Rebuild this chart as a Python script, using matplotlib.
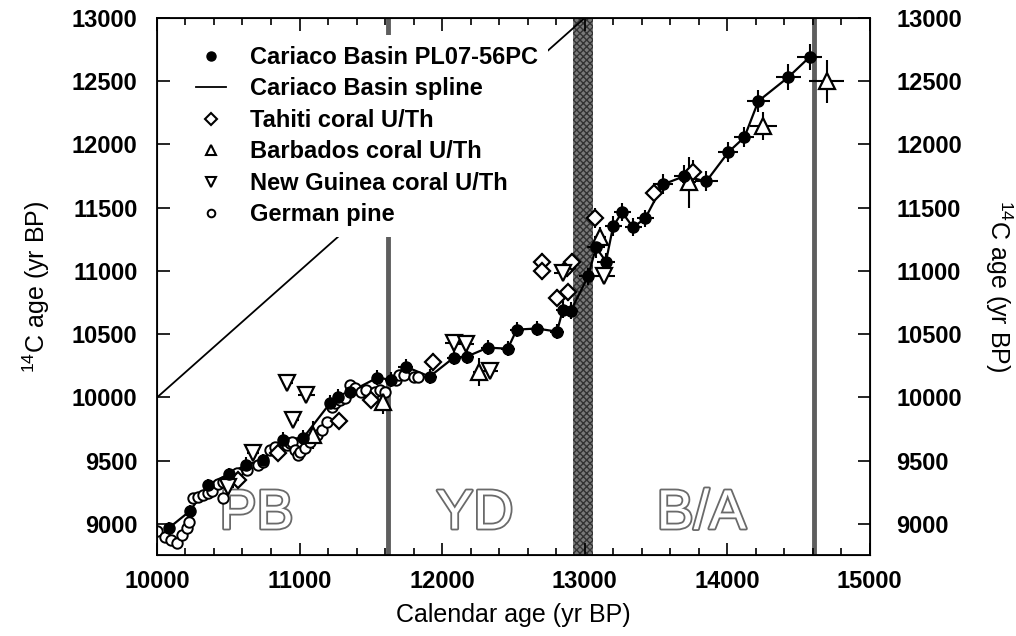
import matplotlib
matplotlib.use("Agg")
import matplotlib.pyplot as plt
import matplotlib.patheffects as pe
from matplotlib.lines import Line2D
from matplotlib.ticker import MultipleLocator

plt.rcParams['font.family'] = ['Liberation Sans', 'DejaVu Sans']
plt.rcParams['mathtext.default'] = 'regular'

# =========================
# data
# =========================
# Cariaco Basin PL07-56PC: calendar age, 14C age, errors
cariaco_cal = [10084, 10232, 10359, 10506, 10626, 10745, 10886, 11027, 11217, 11273,
               11357, 11547, 11640, 11744, 11913, 12082, 12173, 12321, 12461, 12524,
               12665, 12806, 12848, 12904, 13024, 13080, 13150, 13200, 13263, 13340,
               13425, 13551, 13699, 13854, 14008, 14121, 14219, 14430, 14578]
cariaco_c14 = [8969, 9103, 9309, 9396, 9468, 9507, 9666, 9682, 9959, 10006,
               10046, 10157, 10140, 10244, 10165, 10315, 10323, 10394, 10386, 10537,
               10545, 10521, 10695, 10687, 10957, 11186, 11075, 11353, 11464, 11345,
               11416, 11685, 11749, 11709, 11939, 12057, 12343, 12533, 12691]
cariaco_xerr = [30, 30, 30, 30, 30, 30, 40, 40, 40, 40,
                40, 40, 40, 50, 50, 50, 50, 50, 50, 50,
                50, 50, 50, 50, 60, 60, 60, 60, 60, 60,
                60, 70, 70, 80, 70, 70, 80, 90, 90]
cariaco_yerr = [50, 50, 50, 50, 60, 50, 60, 60, 60, 60,
                60, 60, 60, 60, 60, 60, 60, 60, 60, 60,
                60, 60, 70, 70, 70, 80, 70, 80, 70, 70,
                70, 80, 90, 80, 80, 80, 90, 100, 100]

# Tahiti coral U/Th
tahiti_cal = [10570, 10851, 11280, 11498, 11934, 12700, 12700, 12876, 12911,
              12806, 12883, 13073, 13488, 13762]
tahiti_c14 = [9349, 9563, 9816, 9983, 10283, 11075, 10996, 11020, 11075,
              10790, 10830, 11416, 11614, 11780]
tahiti_xerr = [30, 30, 30, 30, 40, 40, 40, 40, 40, 40, 40, 40, 40, 50]
tahiti_yerr = [60, 60, 60, 60, 70, 70, 70, 70, 70, 70, 70, 80, 80, 100]

# Barbados coral U/Th
barbados_cal = [11097, 11589, 12257, 13108, 13734, 14254, 14697]
barbados_c14 = [9705, 9967, 10204, 11266, 11701, 12145, 12501]
barbados_xerr = [30, 30, 40, 40, 50, 95, 120]
barbados_yerr = [110, 100, 110, 80, 200, 110, 170]

# New Guinea coral U/Th
guinea_cal = [10499, 10675, 10914, 10956, 11048, 12082, 12166, 12335, 12848, 13136]
guinea_c14 = [9293, 9563, 10117, 9824, 10022, 10434, 10426, 10212, 10988, 10957]
guinea_xerr = [40, 40, 40, 40, 60, 60, 60, 60, 60, 80]
guinea_yerr = [50, 50, 50, 50, 60, 60, 60, 60, 60, 60]

# German pine
pine_cal = [10000, 10056, 10098, 10141, 10176, 10211, 10225, 10253, 10288, 10323,
            10359, 10387, 10429, 10464, 10464, 10563, 10633, 10710, 10745, 10795,
            10830, 10914, 10935, 10950, 10970, 10992, 11006, 11041, 11076, 11125,
            11160, 11195, 11231, 11252, 11287, 11322, 11357, 11392, 11428, 11463,
            11533, 11568, 11603, 11674, 11695, 11730, 11800, 11828]
pine_c14 = [8945, 8897, 8874, 8850, 8913, 8969, 9016, 9206, 9214, 9230,
            9245, 9261, 9317, 9206, 9333, 9404, 9428, 9468, 9491, 9586,
            9610, 9626, 9642, 9650, 9586, 9547, 9571, 9602, 9650, 9705,
            9745, 9808, 9927, 9959, 9983, 9999, 10101, 10078, 10046, 10062,
            10046, 10062, 10046, 10141, 10180, 10180, 10165, 10165]

one_to_one = [10000, 13000]

# chronozones
pb_yd_boundary = 11624
ba_band = (12918, 13059)
ba_start = 14606
zone_names = ["PB", "YD", "B/A"]
zone_x = [10697, 12229, 13818]
zone_y = 9074

# =========================
# figure
# =========================
fig = plt.figure(figsize=(10.16, 6.36), dpi=100)
ax = fig.add_axes([0.1545, 0.1274, 0.7015, 0.8443])

stip = '#5e5e5e'
ax.axvline(pb_yd_boundary, color=stip, lw=3.5, zorder=1)
ax.axvspan(ba_band[0], ba_band[1], facecolor='#7a7a7a', edgecolor='#333333',
           hatch='xxxxx', lw=0, zorder=1)
ax.axvline(ba_start, color=stip, lw=3.5, zorder=1)

for name, x in zip(zone_names, zone_x):
    ax.text(x, zone_y, name, fontsize=40, color='white', ha='center', va='center',
            zorder=2,
            path_effects=[pe.Stroke(linewidth=2.6, foreground='#6a6a6a'), pe.Normal()])

ax.plot(one_to_one, one_to_one, color='black', lw=1.3, zorder=2)

# spline through Cariaco points
ax.plot(cariaco_cal, cariaco_c14, color='black', lw=1.6, zorder=3)

eb = dict(ecolor='black', elinewidth=1.5, capsize=0, linestyle='none', zorder=4)
ax.errorbar(pine_cal, pine_c14, fmt='o', ms=7.5, mfc='white', mec='black', mew=1.4,
            linestyle='none', zorder=4)
ax.errorbar(tahiti_cal, tahiti_c14, xerr=tahiti_xerr, yerr=tahiti_yerr, fmt='D', ms=8.5,
            mfc='white', mec='black', mew=1.6, **eb)
ax.errorbar(guinea_cal, guinea_c14, xerr=guinea_xerr, yerr=guinea_yerr, fmt='v', ms=11,
            mfc='white', mec='black', mew=1.6, **eb)
ax.errorbar(barbados_cal, barbados_c14, xerr=barbados_xerr, yerr=barbados_yerr, fmt='^',
            ms=11, mfc='white', mec='black', mew=1.6, **eb)
ax.errorbar(cariaco_cal, cariaco_c14, xerr=cariaco_xerr, yerr=cariaco_yerr, fmt='o',
            ms=8, mfc='black', mec='black', **eb)

ax.set_xlim(10000, 15000)
ax.set_ylim(8755, 13000)
ax.xaxis.set_major_locator(MultipleLocator(1000))
ax.xaxis.set_minor_locator(MultipleLocator(200))
ax.yaxis.set_major_locator(MultipleLocator(500))
ax.tick_params(which='both', direction='in', top=True, labelsize=17, width=1.2)
ax.tick_params(which='major', length=9)
ax.tick_params(axis='x', which='major', pad=11)
ax.tick_params(axis='y', which='major', pad=14)
ax.tick_params(which='minor', length=5)
for lab in ax.get_xticklabels() + ax.get_yticklabels():
    lab.set_fontweight('bold')
for s in ax.spines.values():
    s.set_linewidth(1.3)

ax.set_xlabel("Calendar age (yr BP)", fontsize=18, labelpad=7)
ax.set_ylabel("$^{14}$C age (yr BP)", fontsize=18, labelpad=14)

ax2 = ax.twinx()
ax2.set_ylim(ax.get_ylim())
ax2.yaxis.set_major_locator(MultipleLocator(500))
ax2.tick_params(direction='in', labelsize=17, length=9, width=1.2, pad=19)
for lab in ax2.get_yticklabels():
    lab.set_fontweight('bold')
ax2.set_ylabel("$^{14}$C age (yr BP)", fontsize=18, rotation=270, labelpad=38)

handles = [
    Line2D([], [], marker='o', ms=6.5, color='black', linestyle='none'),
    Line2D([], [], color='black', lw=1.3),
    Line2D([], [], marker='D', ms=6.5, mfc='white', mec='black', mew=1.5, linestyle='none'),
    Line2D([], [], marker='^', ms=7.5, mfc='white', mec='black', mew=1.5, linestyle='none'),
    Line2D([], [], marker='v', ms=7.5, mfc='white', mec='black', mew=1.5, linestyle='none'),
    Line2D([], [], marker='o', ms=5.5, mfc='white', mec='black', mew=1.4, linestyle='none'),
]
labels = ["Cariaco Basin PL07-56PC", "Cariaco Basin spline", "Tahiti coral U/Th",
          "Barbados coral U/Th", "New Guinea coral U/Th", "German pine"]
leg = ax.legend(handles, labels, loc='upper left', bbox_to_anchor=(0.04, 0.968),
                prop={'weight': 'bold', 'size': 17}, frameon=True,
                fancybox=False, framealpha=1, edgecolor='none', facecolor='white',
                handlelength=1.27, handletextpad=1.0, labelspacing=0.36,
                borderpad=0.45, borderaxespad=0)
leg.set_zorder(5)

fig.savefig("out.png", dpi=100)
